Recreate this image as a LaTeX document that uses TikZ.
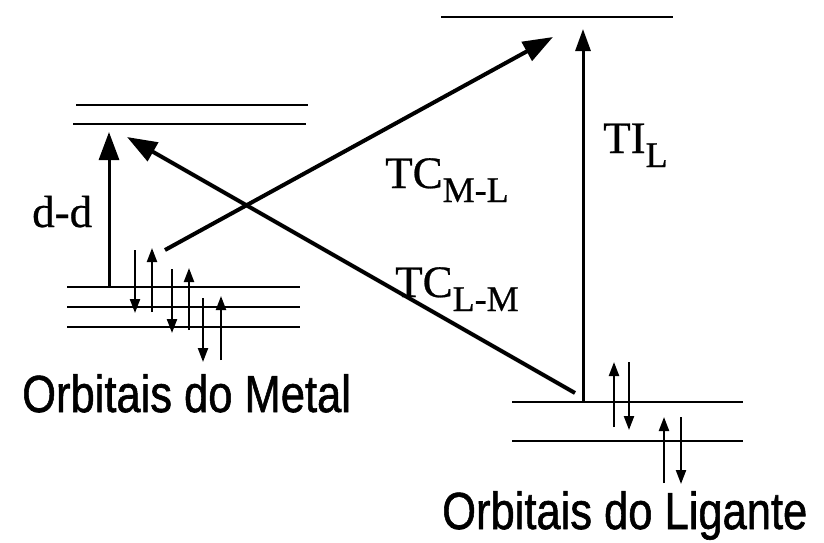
\documentclass[tikz,border=0pt]{standalone}
\usepackage{fontspec}
\setmainfont{Liberation Serif}[FakeBold=0.6]
\newfontfamily\labelsans{Liberation Sans}[FakeBold=1.2]
\usetikzlibrary{arrows.meta}
\tikzset{
  level/.style={line width=2.5pt},
  bigarrow/.style={line width=4pt,-{Triangle[length=30pt,width=21pt]}},
  ddarrow/.style={line width=3pt,-{Triangle[length=28pt,width=20pt]}},
  tiarrow/.style={line width=3pt,-{Triangle[length=22pt,width=15pt]}},
  spin/.style={line width=2.2pt,-{Triangle[length=14pt,width=10pt]}},
  serif/.style={inner sep=0pt,anchor=base west,font=\fontsize{45}{45}\selectfont},
  sanslabel/.style={inner sep=0pt,anchor=base west,font=\labelsans\fontsize{43.5}{44}\selectfont}
}
\newcommand{\subl}[1]{\raisebox{-14pt}{\fontsize{36}{36}\selectfont #1}}
\begin{document}
\begin{tikzpicture}[x=1pt,y=-1pt]
\useasboundingbox (0,0) rectangle (824,542);
% metal levels
\draw[level] (76,105) -- (308,105);
\draw[level] (73,124) -- (306,124);
\draw[level] (67,287) -- (300,287);
\draw[level] (67,307) -- (300,307);
\draw[level] (67,327) -- (300,327);
% ligand levels
\draw[level] (441,17) -- (673,17);
\draw[level] (512,402) -- (743,402);
\draw[level] (512,441) -- (743,441);
% coordinates
\coordinate (ddS) at (109,287);
\coordinate (ddE) at (109,132);
\coordinate (mlS) at (165,250);
\coordinate (mlE) at (553,37);
\coordinate (lmS) at (575,393);
\coordinate (lmE) at (127,137);
\coordinate (tiS) at (583,402);
\coordinate (tiE) at (583,29);
% transitions
\draw[ddarrow] (ddS) -- (ddE);
\draw[bigarrow] (mlS) -- (mlE);
\draw[bigarrow] (lmS) -- (lmE);
\draw[tiarrow] (tiS) -- (tiE);
% metal electrons
\draw[spin] (135,250) -- (135,313);
\draw[spin] (152,312) -- (152,248);
\draw[spin] (172,269) -- (172,333);
\draw[spin] (189,330) -- (189,268);
\draw[spin] (203,298) -- (203,362);
\draw[spin] (221,360) -- (221,296);
% ligand electrons
\draw[spin] (614,427) -- (614,362);
\draw[spin] (629,362) -- (629,430);
\draw[spin] (664,483) -- (664,417);
\draw[spin] (681,417) -- (681,484);
% labels
\node[serif] (dd) at (32,227) {d-d};
\node[serif] (tcml) at (385,188) {TC\subl{M-L}};
\node[serif] (tclm) at (395,297) {TC\subl{L-M}};
\node[serif] (til) at (603,153) {TI\subl{L}};
\node[sanslabel] (om) at (22,412) {\scalebox{1}[1.2]{Orbitais do Metal}};
\node[sanslabel] (ol) at (442,529) {\scalebox{1}[1.2]{Orbitais do Ligante}};
\end{tikzpicture}
\end{document}
